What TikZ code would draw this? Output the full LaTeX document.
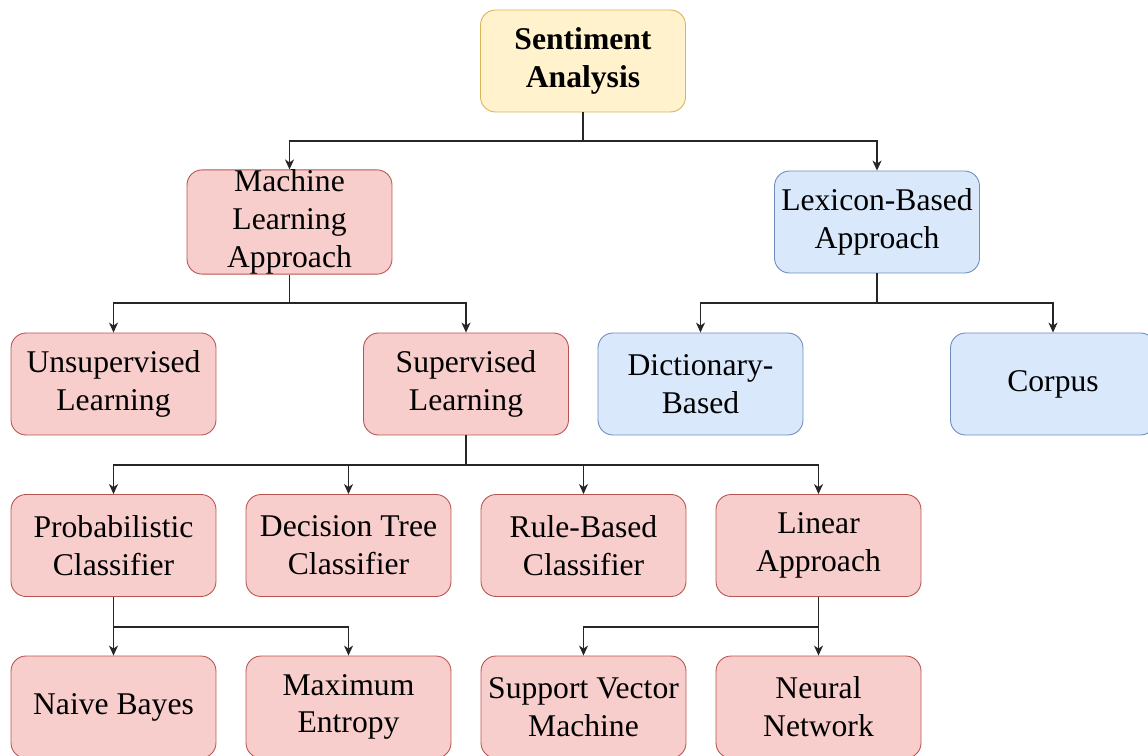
\documentclass[tikz,border=0pt]{standalone}
\usepackage{fontspec}
\setmainfont{Liberation Serif}
\usetikzlibrary{arrows.meta}
\definecolor{redfill}{HTML}{F8CECC}
\definecolor{redline}{HTML}{B85450}
\definecolor{bluefill}{HTML}{DAE8FC}
\definecolor{blueline}{HTML}{6C8EBF}
\definecolor{yellowfill}{HTML}{FFF2CC}
\definecolor{yellowline}{HTML}{D6B656}
\begin{document}
\begin{tikzpicture}[
  x=0.02cm, y=-0.02cm,
  every node/.style={font=\fontsize{18}{21.5}\selectfont},
  box/.style={draw, rounded corners=0.3cm, minimum width=4.1cm, minimum height=2.04cm, align=center, inner sep=0pt, line width=0.5pt},
  rbox/.style={box, fill=redfill, draw=redline},
  bbox/.style={box, fill=bluefill, draw=blueline},
  ybox/.style={box, fill=yellowfill, draw=yellowline, font=\fontsize{18}{21.5}\selectfont\bfseries},
  link/.style={line width=0.75pt, draw=black!85},
  flow/.style={link, -{Stealth[length=2mm, width=1.8mm, inset=0.6mm]}}
]
\useasboundingbox (0,0) rectangle (1148,756);
% Root
\node[ybox] (sa) at (583, 61) {Sentiment\\Analysis};
% Approaches
\node[rbox] (ml) at (289.5, 222) {Machine\\Learning\\Approach};
\node[bbox] (lx) at (877, 222) {Lexicon-Based\\Approach};
% Learning types and lexicon sources
\node[rbox] (unsup) at (113.5, 384) {Unsupervised\\Learning};
\node[rbox] (sup) at (466, 384) {Supervised\\Learning};
\node[bbox] (dict) at (700.5, 384) {Dictionary-\\Based};
\node[bbox] (corp) at (1053, 384) {Corpus};
% Classifiers
\node[rbox] (prob) at (113.5, 545.5) {Probabilistic\\Classifier};
\node[rbox] (dtree) at (348.5, 545.5) {Decision Tree\\Classifier};
\node[rbox] (rule) at (583.5, 545.5) {Rule-Based\\Classifier};
\node[rbox] (lin) at (818.5, 545.5) {Linear\\Approach};
% Methods
\node[rbox] (nb) at (113.5, 707) {Naive Bayes};
\node[rbox] (maxent) at (348.5, 707) {Maximum\\Entropy};
\node[rbox] (svm) at (583.5, 707) {Support Vector\\Machine};
\node[rbox] (nn) at (818.5, 707) {Neural\\Network};
% Junctions
\coordinate (jsa) at (583, 141);
\coordinate (jml) at (289.5, 303);
\coordinate (jlx) at (877, 303);
\coordinate (jsup) at (466, 465);
\coordinate (jprob) at (113.5, 627);
\coordinate (jlin) at (818.5, 627);
% Connectors
\draw[link] (sa) -- (jsa);
\draw[flow] (jsa) -| (ml);
\draw[flow] (jsa) -| (lx);
\draw[link] (ml) -- (jml);
\draw[flow] (jml) -| (unsup);
\draw[flow] (jml) -| (sup);
\draw[link] (lx) -- (jlx);
\draw[flow] (jlx) -| (dict);
\draw[flow] (jlx) -| (corp);
\draw[link] (sup) -- (jsup);
\draw[flow] (jsup) -| (prob);
\draw[flow] (jsup) -| (dtree);
\draw[flow] (jsup) -| (rule);
\draw[flow] (jsup) -| (lin);
\draw[link] (prob) -- (jprob);
\draw[flow] (jprob) -- (nb);
\draw[flow] (jprob) -| (maxent);
\draw[link] (lin) -- (jlin);
\draw[flow] (jlin) -| (svm);
\draw[flow] (jlin) -- (nn);
\end{tikzpicture}
\end{document}
